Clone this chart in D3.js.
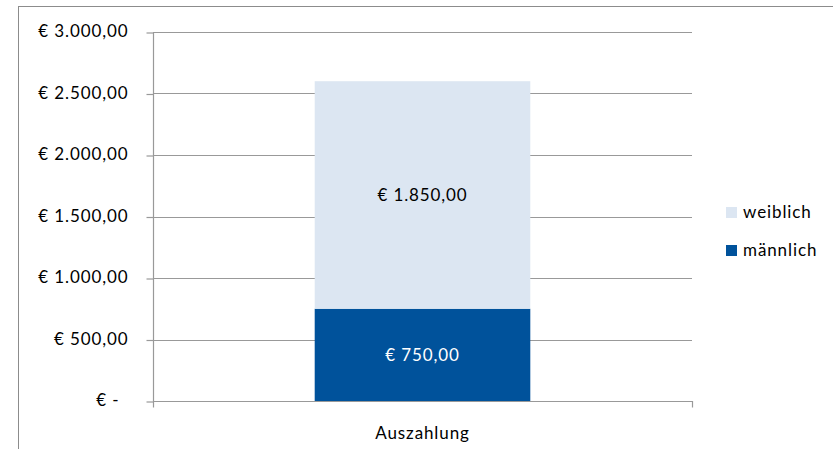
<!DOCTYPE html>
<html>
  <head>
    <meta charset="utf-8" />
    <title>Auszahlung</title>
    <script src="https://d3js.org/d3.v7.min.js"></script>
    <style>
        body{
            margin: 0;
            background: #fff;
        }
        text{
            font-family: Lato, "Open Sans", sans-serif;
            font-size: 17px;
            letter-spacing: 0.9px;
        }
    </style>
  </head>
  <body>
    <svg id="vis"></svg>

    <script>
        var width = 833;
        var height = 449;

        // chart data
        var categories = ["Auszahlung"];
        var seriesNames = ["männlich", "weiblich"];
        var maennlich = [750];
        var weiblich = [1850];
        var seriesColors = ["#00529b", "#dce6f2"];
        var labelColors = ["#ffffff", "#000000"];
        var yTicks = [0, 500, 1000, 1500, 2000, 2500, 3000];

        var svg = d3.select("#vis").attr("width", width).attr("height", height);

        // outer chart border
        svg.append("rect")
            .attr("x", 18.5).attr("y", 6.5)
            .attr("width", 900).attr("height", 500)
            .attr("fill", "none")
            .attr("stroke", "#8c8c8c");

        var plot = {left: 153, right: 692, top: 32, bottom: 401};

        var x = d3.scaleBand().domain(categories)
            .range([plot.left, plot.right])
            .paddingInner(0.6).paddingOuter(0.3);
        var y = d3.scaleLinear().domain([0, 3000]).range([plot.bottom, plot.top]);

        function euro(v) {
            if (v === 0) return "€ -";
            return "€ " + d3.format(",.2f")(v).replace(/,/g, "#").replace(".", ",").replace(/#/g, ".");
        }

        // gridlines
        svg.append("g").selectAll("line").data(yTicks).enter().append("line")
            .attr("x1", plot.left).attr("x2", plot.right)
            .attr("y1", function(d){ return Math.round(y(d)) + 0.5; })
            .attr("y2", function(d){ return Math.round(y(d)) + 0.5; })
            .attr("stroke", "#999")
            .attr("stroke-width", 1.2);

        // stacked bars
        var stackData = categories.map(function(c, i){
            return {cat: c, "männlich": maennlich[i], "weiblich": weiblich[i]};
        });
        var stack = d3.stack().keys(seriesNames)(stackData);

        var layers = svg.append("g").selectAll("g").data(stack).enter().append("g");

        layers.selectAll("rect").data(function(d){ return d; }).enter().append("rect")
            .attr("x", function(d){ return x(d.data.cat); })
            .attr("width", x.bandwidth())
            .attr("y", function(d){ return y(d[1]); })
            .attr("height", function(d){ return y(d[0]) - y(d[1]); })
            .attr("fill", function(d){ return seriesColors[seriesNames.indexOf(this.parentNode.__data__.key)]; });

        layers.each(function(layer, li){
            d3.select(this).selectAll("text").data(layer).enter().append("text")
                .attr("x", function(d){ return x(d.data.cat) + x.bandwidth() / 2; })
                .attr("y", function(d){ return (y(d[0]) + y(d[1])) / 2; })
                .attr("dy", "0.35em")
                .attr("text-anchor", "middle")
                .attr("fill", labelColors[li])
                .text(function(d){ return euro(d[1] - d[0]); });
        });

        // y axis
        var yAxis = d3.axisLeft(y).tickValues(yTicks).tickSize(7).tickPadding(18).tickFormat(euro);
        var ya = svg.append("g").attr("transform", "translate(" + (plot.left + 0.5) + ",0.5)").call(yAxis);
        ya.select(".domain").attr("d", "M0," + plot.top + "V" + (plot.bottom + 6)).attr("stroke", "#999").attr("stroke-width", 1.2);
        ya.selectAll(".tick line").attr("stroke", "#999").attr("stroke-width", 1.2);
        ya.selectAll(".tick text")
            .attr("fill", "#000")
            .attr("y", -1)
            .style("font-family", "Lato, 'Open Sans', sans-serif")
            .style("font-size", "17px")
            .attr("dx", function(d){ return d === 0 ? -9 : 0; });

        // x axis
        var xAxis = d3.axisBottom(x).tickSize(0).tickPadding(25);
        var xa = svg.append("g").attr("transform", "translate(0," + (plot.bottom + 0.5) + ")").call(xAxis);
        xa.select(".domain").attr("d", "M" + plot.left + ",0H" + (plot.right + 0.5) + "V6").attr("stroke", "#999").attr("stroke-width", 1.2);
        xa.selectAll(".tick text")
            .attr("fill", "#000")
            .style("font-family", "Lato, 'Open Sans', sans-serif")
            .style("font-size", "17px");

        // legend (weiblich on top)
        var legendOrder = ["weiblich", "männlich"];
        var legend = svg.append("g").selectAll("g").data(legendOrder).enter().append("g")
            .attr("transform", function(d, i){ return "translate(726," + (207 + i * 38) + ")"; });
        legend.append("rect")
            .attr("width", 11).attr("height", 11)
            .attr("fill", function(d){ return seriesColors[seriesNames.indexOf(d)]; });
        legend.append("text")
            .attr("x", 17).attr("y", 5).attr("dy", "0.35em")
            .text(function(d){ return d; });
    </script>
  </body>
</html>
